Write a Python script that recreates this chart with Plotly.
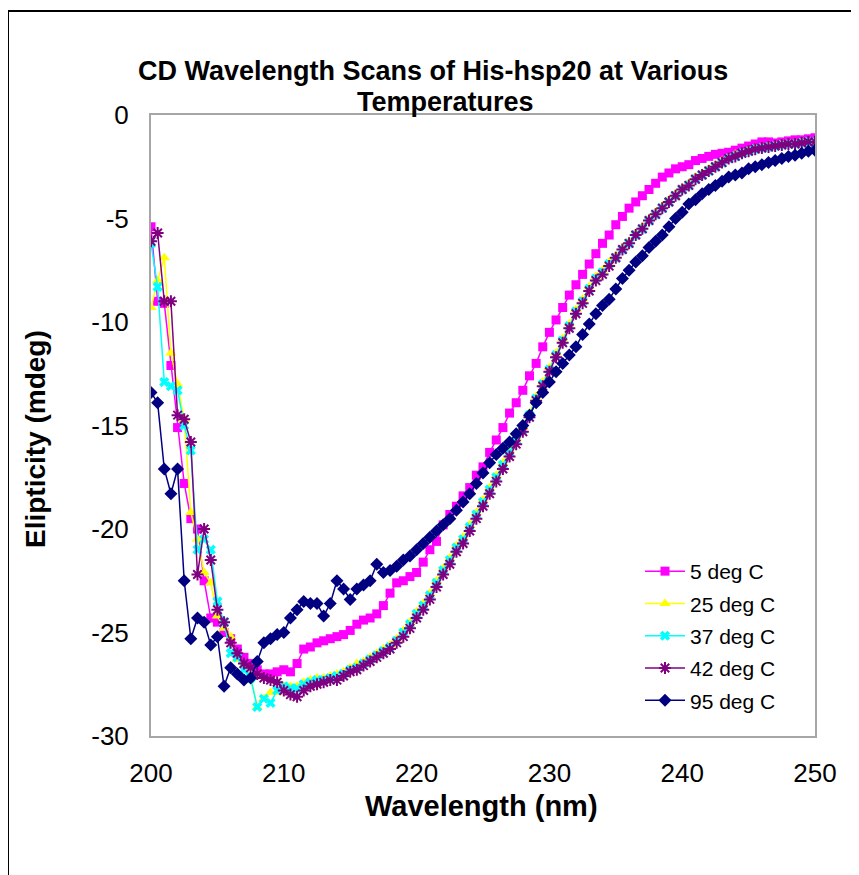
import plotly.graph_objects as go

wavelength = [200 + 0.5 * i for i in range(101)]

deg5 = [
    -5.4, -9.0, -9.1, -12.1, -15.1, -17.8, -19.5, -20.0, -22.5, -24.3,
    -24.5, -25.0, -25.3, -25.8, -26.2, -26.5, -26.8, -27.0, -27.0, -26.9,
    -26.8, -26.9, -26.5, -25.8, -25.7, -25.5, -25.4, -25.3, -25.2, -25.1,
    -24.9, -24.6, -24.4, -24.3, -24.1, -23.7, -23.1, -22.6, -22.5, -22.3,
    -22.1, -21.6, -21.0, -20.6, -19.8, -19.3, -18.9, -18.4, -18.0, -17.4,
    -17.0, -16.3, -15.7, -15.1, -14.4, -13.9, -13.3, -12.6, -12.0, -11.2,
    -10.5, -9.9, -9.3, -8.7, -8.2, -7.7, -7.2, -6.7, -6.2, -5.8,
    -5.3, -4.9, -4.5, -4.2, -3.9, -3.6, -3.3, -3.0, -2.8, -2.6,
    -2.5, -2.4, -2.2, -2.1, -2.0, -1.9, -1.85, -1.8, -1.7, -1.6,
    -1.5, -1.4, -1.3, -1.3, -1.35, -1.3, -1.25, -1.2, -1.2, -1.15,
    -1.1,
]

deg25 = [
    -9.3, -8.0, -6.9, -11.5, -13.0, -14.7, -19.2, -20.5, -22.1, -22.6,
    -24.2, -24.8, -25.2, -26.3, -26.6, -27.1, -28.6, -28.2, -27.9, -27.9,
    -27.6, -27.6, -27.6, -27.4, -27.3, -27.2, -27.2, -27.1, -27.0, -26.9,
    -26.7, -26.5, -26.4, -26.2, -26.0, -25.8, -25.6, -25.3, -24.9, -24.5,
    -24.0, -23.6, -23.1, -22.5, -21.9, -21.4, -20.8, -20.4, -19.8, -19.2,
    -18.6, -18.0, -17.4, -16.8, -16.2, -15.6, -15.1, -14.4, -13.6, -12.9,
    -12.2, -11.5, -10.8, -10.1, -9.4, -8.9, -8.3, -7.8, -7.5, -7.1,
    -6.8, -6.4, -6.1, -5.7, -5.4, -5.0, -4.7, -4.4, -4.1, -3.8,
    -3.5, -3.3, -3.0, -2.8, -2.6, -2.4, -2.2, -2.05, -1.9, -1.8,
    -1.7, -1.6, -1.55, -1.5, -1.45, -1.4, -1.4, -1.35, -1.3, -1.3,
    -1.3,
]

deg37 = [
    -6.2, -8.3, -12.9, -13.1, -13.3, -15.0, -16.2, -21.0, -20.5, -21.0,
    -23.5, -24.5, -26.0, -26.2, -26.8, -27.2, -28.6, -28.2, -28.4, -27.8,
    -27.6, -27.7, -27.7, -27.5, -27.4, -27.3, -27.3, -27.2, -27.1, -27.0,
    -26.8, -26.7, -26.5, -26.3, -26.1, -25.9, -25.7, -25.4, -25.0, -24.6,
    -24.1, -23.7, -23.2, -22.6, -22.0, -21.5, -20.9, -20.5, -19.9, -19.3,
    -18.7, -18.1, -17.5, -16.9, -16.3, -15.7, -15.2, -14.5, -13.7, -13.0,
    -12.3, -11.6, -10.9, -10.2, -9.5, -9.0, -8.4, -7.9, -7.6, -7.2,
    -6.9, -6.5, -6.2, -5.8, -5.5, -5.1, -4.8, -4.5, -4.2, -3.9,
    -3.6, -3.4, -3.1, -2.9, -2.7, -2.5, -2.3, -2.1, -2.0, -1.85,
    -1.75, -1.65, -1.6, -1.55, -1.5, -1.45, -1.4, -1.4, -1.35, -1.3,
    -1.3,
]

deg42 = [
    -6.1, -5.7, -9.0, -9.0, -14.5, -14.7, -15.8, -22.2, -20.0, -21.5,
    -23.9, -24.5, -25.5, -26.0, -26.5, -26.7, -27.0, -27.2, -27.3, -27.4,
    -27.8, -28.0, -28.1, -27.8, -27.6, -27.5, -27.4, -27.3, -27.3, -27.1,
    -26.9, -26.8, -26.6, -26.4, -26.2, -26.0, -25.8, -25.5, -25.2, -24.8,
    -24.3, -23.9, -23.4, -22.8, -22.2, -21.7, -21.1, -20.7, -20.1, -19.5,
    -18.9, -18.3, -17.7, -17.1, -16.5, -15.9, -15.3, -14.6, -13.8, -13.1,
    -12.4, -11.7, -11.0, -10.3, -9.6, -9.1, -8.5, -8.0, -7.7, -7.3,
    -6.9, -6.5, -6.2, -5.8, -5.5, -5.1, -4.8, -4.5, -4.2, -3.9,
    -3.6, -3.4, -3.1, -2.9, -2.7, -2.5, -2.3, -2.1, -2.0, -1.85,
    -1.75, -1.65, -1.6, -1.55, -1.5, -1.45, -1.4, -1.4, -1.35, -1.3,
    -1.3,
]

deg95 = [
    -13.4, -13.9, -17.1, -18.3, -17.1, -22.5, -25.3, -24.3, -24.5, -25.6,
    -25.2, -27.6, -26.7, -27.0, -27.3, -27.2, -26.4, -25.5, -25.3, -25.1,
    -25.0, -24.3, -23.9, -23.5, -23.6, -23.6, -24.2, -23.6, -22.5, -22.9,
    -23.4, -22.9, -22.7, -22.5, -21.7, -22.1, -22.0, -21.8, -21.5, -21.3,
    -21.0, -20.7, -20.4, -20.1, -19.8, -19.5, -19.1, -18.7, -18.3, -17.8,
    -17.3, -16.8, -16.4, -16.1, -15.8, -15.4, -15.0, -14.5, -13.9, -13.4,
    -12.9, -12.4, -12.0, -11.6, -11.2, -10.6, -10.1, -9.6, -9.2, -8.9,
    -8.4, -7.9, -7.5, -7.1, -6.8, -6.4, -6.1, -5.8, -5.4, -5.0,
    -4.7, -4.3, -4.1, -3.8, -3.6, -3.4, -3.2, -3.0, -2.9, -2.8,
    -2.6, -2.5, -2.4, -2.3, -2.2, -2.1, -2.0, -1.95, -1.85, -1.75,
    -1.7,
]

series_names = ["5 deg C", "25 deg C", "37 deg C", "42 deg C", "95 deg C"]
series_values = [deg5, deg25, deg37, deg42, deg95]

x_ticks = [200, 210, 220, 230, 240, 250]
y_ticks = [0, -5, -10, -15, -20, -25, -30]
y_tick_labels = ["0", "-5", "-10", "-15", "-20", "-25", "-30"]

styles = [
    dict(color="#FF00FF", symbol="square", size=9, lw=0),
    dict(color="#FFFF00", symbol="triangle-up", size=10, lw=0),
    dict(color="#00FFFF", symbol="x", size=9, lw=0),
    dict(color="#800080", symbol="asterisk", size=10, lw=2),
    dict(color="#000080", symbol="diamond", size=10, lw=0),
]

fig = go.Figure()
for name, vals, st in zip(series_names, series_values, styles):
    marker = dict(color=st["color"], symbol=st["symbol"], size=st["size"])
    if st["lw"]:
        marker["line"] = dict(color=st["color"], width=st["lw"])
    fig.add_trace(go.Scatter(
        x=wavelength, y=vals, name=name, mode="lines+markers",
        line=dict(color=st["color"], width=1.5),
        marker=marker, legendgroup=name,
    ))

# page offset (browser body margin)
OFF = 8
W, H = 859, 875
PL, PT, PR, PB = 151, 115, 815, 736  # plot area in page pixels
L, T = PL - OFF, PT - OFF
pw, ph = PR - PL, PB - PT
R = W - L - pw
B = H - T - ph

def px_x(p):
    return (p - OFF - L) / pw

def px_y(p):
    return (T + ph - (p - OFF)) / ph

font_family = "Liberation Sans, Arial, sans-serif"

fig.update_layout(
    width=W, height=H,
    margin=dict(l=L, r=R, t=T, b=B, pad=0),
    paper_bgcolor="white", plot_bgcolor="white",
    font=dict(family=font_family, color="black"),
    showlegend=True,
    legend=dict(
        x=px_x(640), y=px_y(551), xanchor="left", yanchor="top",
        bgcolor="rgba(0,0,0,0)", borderwidth=0,
        font=dict(size=21, color="black", family=font_family),
        tracegroupgap=2, itemwidth=40,
    ),
    xaxis=dict(
        range=[200, 250], tickvals=x_ticks, ticks="", showgrid=False,
        zeroline=False, showline=True, linecolor="#A6A6A6", linewidth=2,
        mirror=True, tickfont=dict(size=26), ticklabelstandoff=13,
    ),
    yaxis=dict(
        range=[-30, 0], tickvals=y_ticks, ticktext=y_tick_labels, ticks="",
        showgrid=False, zeroline=False, showline=True, linecolor="#A6A6A6",
        linewidth=2, mirror=True, tickfont=dict(size=26), ticklabelstandoff=15,
    ),
    annotations=[
        dict(text="<b>CD Wavelength Scans of His-hsp20 at Various</b>",
             x=px_x(433), y=px_y(71), xref="paper", yref="paper",
             showarrow=False, font=dict(size=27), xanchor="center", yanchor="middle"),
        dict(text="<b>Temperatures</b>",
             x=px_x(445), y=px_y(102), xref="paper", yref="paper",
             showarrow=False, font=dict(size=27), xanchor="center", yanchor="middle"),
        dict(text="<b>Elipticity (mdeg)</b>",
             x=px_x(35), y=px_y(439), xref="paper", yref="paper", textangle=-90,
             showarrow=False, font=dict(size=28), xanchor="center", yanchor="middle"),
        dict(text="<b>Wavelength (nm)</b>",
             x=px_x(481), y=px_y(806), xref="paper", yref="paper",
             showarrow=False, font=dict(size=29), xanchor="center", yanchor="middle"),
    ],
    shapes=[
        dict(type="rect", xref="paper", yref="paper",
             x0=px_x(8), x1=px_x(880), y0=px_y(900), y1=px_y(11),
             line=dict(color="black", width=2), fillcolor="rgba(0,0,0,0)", layer="below"),
    ],
)

fig.write_html("out.html")
